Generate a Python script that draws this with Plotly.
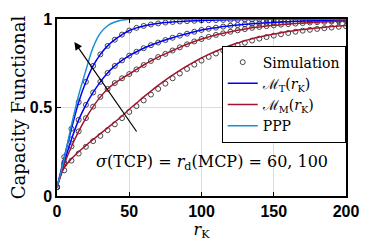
import plotly.graph_objects as go

r_vals = list(range(0, 205, 5))

ppp = [0.05, 0.21, 0.40, 0.57, 0.71, 0.84, 0.92, 0.962, 0.983, 0.994, 0.999,
       1.0, 1.0, 1.0, 1.0, 1.0, 1.0, 1.0, 1.0, 1.0, 1.0, 1.0, 1.0, 1.0, 1.0,
       1.0, 1.0, 1.0, 1.0, 1.0, 1.0, 1.0, 1.0, 1.0, 1.0, 1.0, 1.0, 1.0, 1.0, 1.0, 1.0]

mt_60 = [0.05, 0.22, 0.38, 0.53, 0.645, 0.735, 0.80, 0.848, 0.883, 0.912, 0.935,
         0.950, 0.961, 0.969, 0.975, 0.980, 0.983, 0.986, 0.988, 0.990, 0.992,
         0.993, 0.994, 0.995, 0.996, 0.996, 0.997, 0.997, 0.998, 0.998, 0.998,
         0.999, 0.999, 0.999, 0.999, 0.999, 1.0, 1.0, 1.0, 1.0, 1.0]

mt_100 = [0.05, 0.19, 0.32, 0.43, 0.515, 0.585, 0.645, 0.695, 0.735, 0.766, 0.793,
          0.815, 0.835, 0.852, 0.867, 0.881, 0.894, 0.906, 0.917, 0.928, 0.938,
          0.945, 0.951, 0.957, 0.962, 0.966, 0.970, 0.973, 0.976, 0.979, 0.981,
          0.983, 0.985, 0.987, 0.988, 0.989, 0.990, 0.991, 0.992, 0.993, 0.994]

mm_60 = [0.05, 0.18, 0.28, 0.365, 0.44, 0.505, 0.56, 0.605, 0.638, 0.665, 0.689,
         0.715, 0.740, 0.763, 0.785, 0.803, 0.822, 0.840, 0.857, 0.873, 0.887,
         0.899, 0.910, 0.919, 0.928, 0.936, 0.943, 0.950, 0.955, 0.960, 0.964,
         0.968, 0.971, 0.974, 0.977, 0.980, 0.982, 0.984, 0.986, 0.987, 0.988]

mm_100 = [0.05, 0.16, 0.21, 0.25, 0.285, 0.32, 0.352, 0.385, 0.418, 0.452, 0.49,
          0.525, 0.56, 0.593, 0.625, 0.655, 0.683, 0.71, 0.735, 0.758, 0.78,
          0.80, 0.818, 0.835, 0.85, 0.864, 0.877, 0.888, 0.898, 0.907, 0.915,
          0.922, 0.929, 0.935, 0.94, 0.945, 0.949, 0.953, 0.957, 0.96, 0.963]

sim_mm_100 = [0.05, 0.145, 0.20, 0.24, 0.278, 0.31, 0.34, 0.372, 0.405, 0.44, 0.475,
              0.508, 0.54, 0.573, 0.605, 0.635, 0.665, 0.692, 0.718, 0.742, 0.765,
              0.786, 0.805, 0.822, 0.838, 0.853, 0.866, 0.878, 0.889, 0.898, 0.906,
              0.914, 0.921, 0.928, 0.934, 0.939, 0.944, 0.948, 0.952, 0.956, 0.959]

x_ticks = [0, 50, 100, 150, 200]
y_ticks = [0, 0.5, 1]
y_tick_labels = ["0", "0.5", "1"]

BLUE = "#0000FF"
RED = "#A2142F"
LBLUE = "#1A8FD0"
SIMC = "#333333"
SERIF = "DejaVu Serif"
SANS = "Liberation Sans"

fig = go.Figure()

sim_sets = [mt_60, mt_100, mm_60, sim_mm_100]
for i, s in enumerate(sim_sets):
    fig.add_trace(go.Scatter(
        x=r_vals, y=s, mode="markers",
        marker=dict(symbol="circle-open", size=5, color=SIMC, line=dict(width=0.9)),
        name="Simulation", showlegend=(i == 0), legendrank=1))

for i, s in enumerate([mt_60, mt_100]):
    fig.add_trace(go.Scatter(
        x=r_vals, y=s, mode="lines", line=dict(color=BLUE, width=1.5, shape="spline"),
        name="ℳ<sub>T</sub>(<i>r</i><sub>K</sub>)", showlegend=(i == 0), legendrank=2))

for i, s in enumerate([mm_60, mm_100]):
    fig.add_trace(go.Scatter(
        x=r_vals, y=s, mode="lines", line=dict(color=RED, width=1.5, shape="spline"),
        name="ℳ<sub>M</sub>(<i>r</i><sub>K</sub>)", showlegend=(i == 0), legendrank=3))

fig.add_trace(go.Scatter(
    x=r_vals, y=ppp, mode="lines", line=dict(color=LBLUE, width=1.5, shape="spline"),
    name="PPP", legendrank=4))

fig.add_annotation(
    x=12, y=0.87, ax=55.8, ay=0.356, xref="x", yref="y", axref="x", ayref="y",
    text="", showarrow=True, arrowhead=2, arrowsize=1.3, arrowwidth=1.2, arrowcolor="black")

fig.add_annotation(
    x=107, y=0.19, xref="x", yref="y", showarrow=False,
    text="<i>σ</i>(TCP) = <i>r</i><sub>d</sub>(MCP) = 60, 100",
    font=dict(family=SERIF, size=16, color="black"))

# page body has an 8px default margin, so the figure is offset by 8px
fig.update_layout(
    width=382, height=246,
    margin=dict(l=49, r=44, t=11, b=58, autoexpand=False),
    paper_bgcolor="white", plot_bgcolor="white",
    showlegend=True,
    legend=dict(x=0.57, y=0.85, xanchor="left", yanchor="top",
                bgcolor="white", bordercolor="black", borderwidth=1,
                font=dict(family=SERIF, size=14, color="black"),
                tracegroupgap=0, itemwidth=30),
)

fig.update_xaxes(
    range=[0, 200], tickvals=x_ticks, ticktext=[f"<b>{t}</b>" for t in x_ticks],
    showgrid=True, gridcolor="#dcdcdc", gridwidth=1,
    showline=True, linecolor="black", linewidth=1.5, mirror="ticks",
    ticks="inside", ticklen=4, tickcolor="black", zeroline=False, automargin=False,
    tickfont=dict(family=SANS, size=16, color="black"),
    title=dict(text="<i>r</i><sub>K</sub>", font=dict(family=SERIF, size=16, color="black"), standoff=2))

fig.update_yaxes(
    range=[0, 1], tickvals=y_ticks, ticktext=[f"<b>{t}</b>" for t in y_tick_labels],
    showgrid=True, gridcolor="#dcdcdc", gridwidth=1,
    showline=True, linecolor="black", linewidth=1.5, mirror="ticks",
    ticks="inside", ticklen=4, tickcolor="black", zeroline=False, automargin=False,
    tickfont=dict(family=SANS, size=16, color="black"),
    title=dict(text="Capacity Functional", font=dict(family=SERIF, size=18, color="black"), standoff=8))

fig.write_html("out.html")
